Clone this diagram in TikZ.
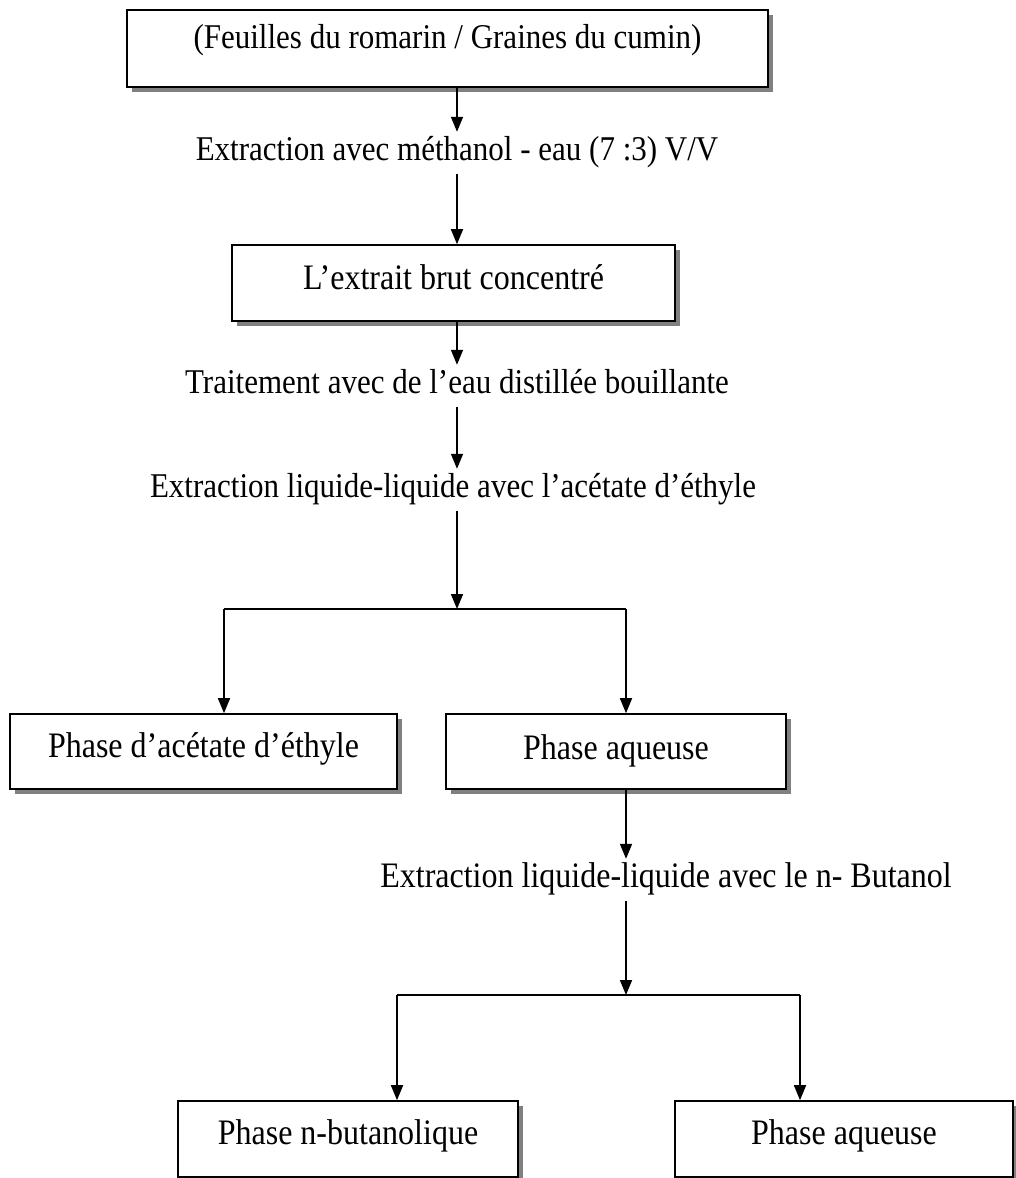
\documentclass[tikz,border=0pt]{standalone}
\usepackage{fontspec}
\usepackage{graphicx}
\setmainfont{Liberation Serif}
\usetikzlibrary{arrows.meta,shadows}
\definecolor{shadowgray}{HTML}{808080}
\newcommand{\talltxt}[1]{\scalebox{1}[1.12]{#1}}
\tikzset{
  boxnode/.style={draw=black, line width=1.6pt, fill=white, rectangle, inner sep=0pt,
    general shadow={fill=shadowgray, shadow xshift=5pt, shadow yshift=-5pt},
    font=\fontsize{32}{38}\selectfont},
  stepnote/.style={inner xsep=2pt, inner ysep=8pt, text height=20pt, text depth=6pt,
    font=\fontsize{31}{37}\selectfont},
  flow/.style={line width=1.6pt, -{Triangle[length=15pt,width=12pt]}},
  plainline/.style={line width=1.6pt}
}
\begin{document}
\begin{tikzpicture}[x=1pt,y=-1pt]
\useasboundingbox (0,0) rectangle (1015,1178);
\node[boxnode, minimum width=641pt, text height=38pt, text depth=39pt, font=\fontsize{31}{37}\selectfont] (b1) at (447.5,48.5) {\talltxt{(Feuilles du romarin / Graines du cumin)}};
\node[stepnote] (t1) at (457,153) {\talltxt{Extraction avec méthanol - eau (7 :3) V/V}};
\node[boxnode, minimum width=443pt, text height=44pt, text depth=32pt] (b2) at (453.5,283) {\talltxt{L’extrait brut concentré}};
\node[stepnote] (t2) at (457,386) {\talltxt{Traitement avec de l’eau distillée bouillante}};
\node[stepnote] (t3) at (453,490) {\talltxt{Extraction liquide-liquide avec l’acétate d’éthyle}};
\coordinate (s1) at (457,609);
\coordinate (s1l) at (224,609);
\coordinate (s1r) at (626,609);
\node[boxnode, minimum width=387pt, text height=43pt, text depth=32pt] (b3) at (203.5,751.5) {\talltxt{Phase d’acétate d’éthyle}};
\node[boxnode, minimum width=340pt, text height=45pt, text depth=30pt] (b4) at (616,751.5) {\talltxt{Phase aqueuse}};
\node[stepnote, font=\fontsize{32}{38}\selectfont] (t4) at (666,880) {\talltxt{Extraction liquide-liquide avec le n- Butanol}};
\coordinate (s2) at (626,995);
\coordinate (s2l) at (397,995);
\coordinate (s2r) at (800,995);
\node[boxnode, minimum width=340pt, text height=43pt, text depth=33pt] (b5) at (348,1139) {\talltxt{Phase n-butanolique}};
\node[boxnode, minimum width=338pt, text height=43pt, text depth=33pt] (b6) at (844,1139) {\talltxt{Phase aqueuse}};
% connectors
\draw[flow] (b1.south -| t1.north) -- (t1.north);
\draw[flow] (t1.south) -- (t1.south |- b2.north);
\draw[flow] (b2.south -| t2.north) -- (t2.north);
\draw[flow] (t2.south) -- (t2.south |- t3.north);
\draw[flow] (t3.south -| s1) -- (s1);
\draw[plainline] (s1l) -- (s1r);
\draw[flow] (s1l) -- (s1l |- b3.north);
\draw[flow] (s1r) -- (s1r |- b4.north);
\draw[flow] (b4.south -| s1r) -- (t4.north -| s1r);
\draw[flow] (t4.south -| s2) -- (s2);
\draw[plainline] (s2l) -- (s2r);
\draw[flow] (s2l) -- (s2l |- b5.north);
\draw[flow] (s2r) -- (s2r |- b6.north);
\end{tikzpicture}
\end{document}
